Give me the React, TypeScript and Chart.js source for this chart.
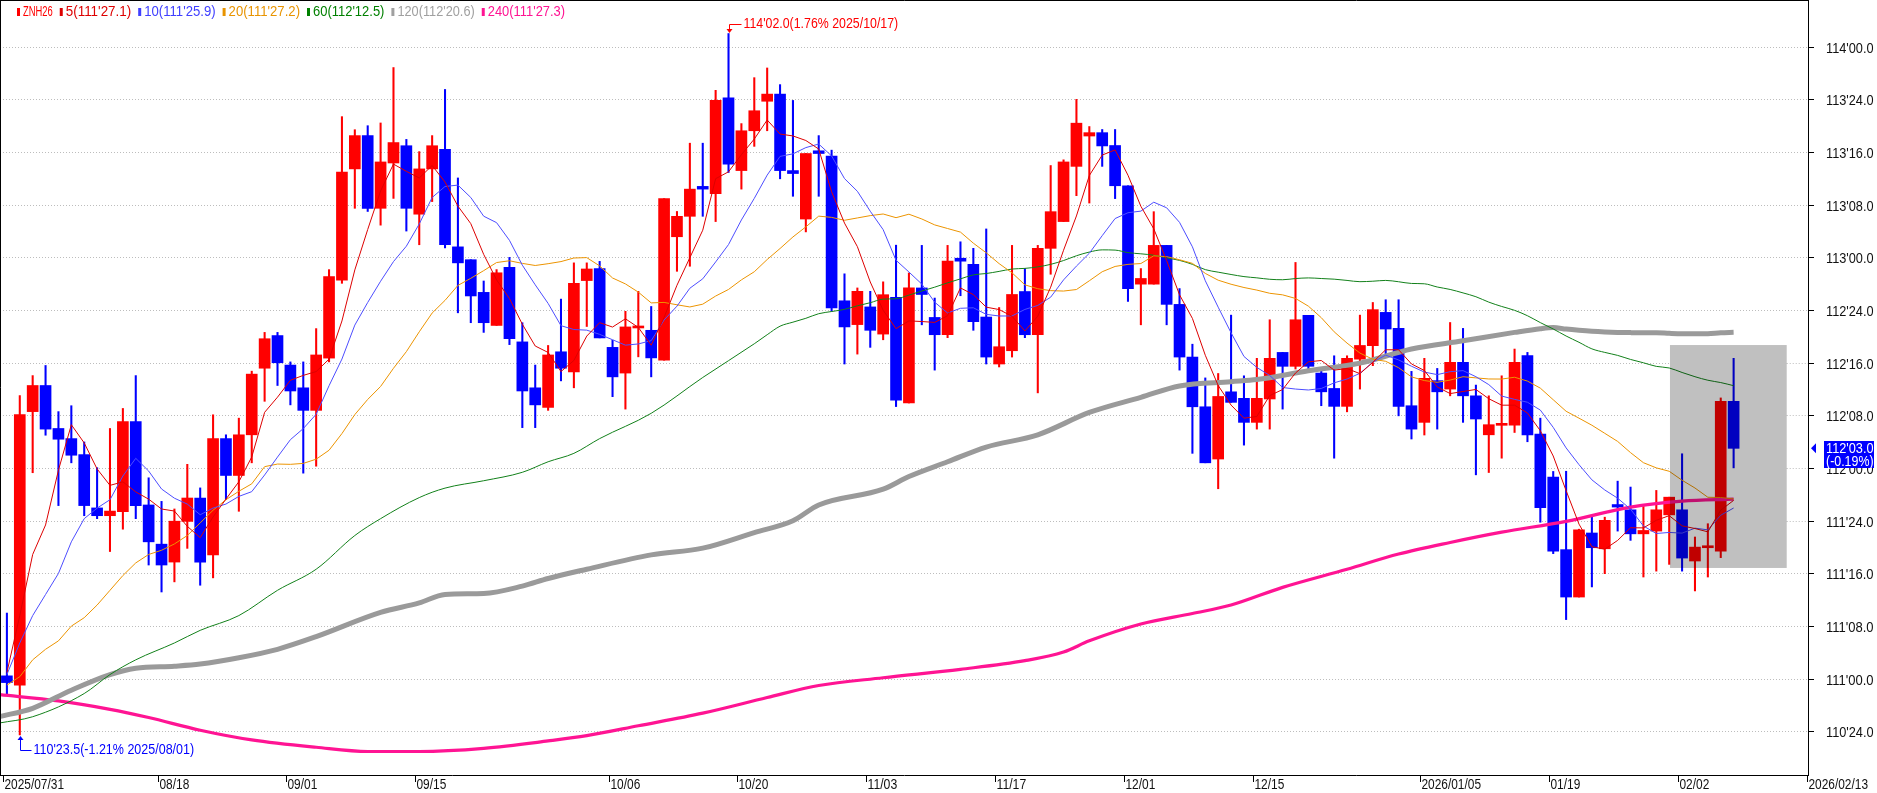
import React, { useEffect, useRef } from "react";
import { Chart, registerables } from "chart.js";

Chart.register(...registerables);

// ---- Daily OHLC (ZNH26), index 0 = 2025/07/31 ----
const opens = [
  111.014, 110.970, 112.268, 112.392, 112.188, 112.140, 112.064, 111.811, 111.774, 111.793,
  112.221, 111.825, 111.639, 111.554, 111.747, 111.858, 111.588, 112.140, 111.965, 112.158,
  112.474, 112.629, 112.489, 112.381, 112.274, 112.522, 112.892, 113.420, 113.578, 113.233,
  113.448, 113.530, 113.205, 113.420, 113.513, 113.050, 112.989, 112.834, 112.677, 112.953,
  112.599, 112.381, 112.288, 112.552, 112.457, 112.890, 112.947, 112.573, 112.451, 112.665,
  112.654, 112.512, 113.098, 113.195, 113.337, 113.303, 113.757, 113.412, 113.601, 113.741,
  113.775, 113.412, 113.182, 113.506, 113.481, 112.794, 112.681, 112.765, 112.636, 112.811,
  112.309, 112.855, 112.715, 112.633, 112.996, 112.967, 112.717, 112.494, 112.557, 112.838,
  112.633, 113.043, 113.170, 113.432, 113.576, 113.592, 113.531, 113.340, 112.873, 112.873,
  113.057, 112.777, 112.527, 112.291, 112.043, 112.362, 112.331, 112.217, 112.328, 112.549,
  112.483, 112.725, 112.451, 112.378, 112.293, 112.517, 112.581, 112.739, 112.663, 112.296,
  112.217, 112.415, 112.375, 112.502, 112.343, 112.158, 112.203, 112.204, 112.534, 112.162,
  111.957, 111.613, 111.388, 111.692, 111.617, 111.827, 111.802, 111.688, 111.701, 111.778,
  111.802, 111.559, 111.622, 111.606, 112.317,
];
const highs = [
  111.312, 112.344, 112.439, 112.487, 112.268, 112.296, 112.124, 112.002, 112.188, 112.283,
  112.439, 111.954, 111.842, 111.806, 112.018, 111.906, 112.253, 112.158, 112.237, 112.460,
  112.644, 112.644, 112.504, 112.504, 112.662, 112.942, 113.668, 113.606, 113.625, 113.638,
  113.901, 113.560, 113.502, 113.578, 113.797, 113.377, 112.989, 112.888, 112.942, 113.000,
  112.690, 112.489, 112.582, 112.802, 112.974, 112.974, 112.981, 112.607, 112.744, 112.839,
  112.767, 113.279, 113.218, 113.542, 113.542, 113.793, 114.0625, 113.635, 113.853, 113.899,
  113.820, 113.745, 113.493, 113.578, 113.509, 112.922, 112.855, 112.839, 112.884, 113.058,
  112.926, 113.057, 112.807, 113.057, 113.074, 113.043, 113.135, 112.762, 113.057, 112.947,
  113.057, 113.436, 113.463, 113.750, 113.621, 113.607, 113.607, 113.340, 112.947, 113.217,
  113.057, 112.852, 112.588, 112.428, 112.449, 112.726, 112.438, 112.521, 112.704, 112.549,
  112.976, 112.725, 112.470, 112.533, 112.533, 112.726, 112.786, 112.799, 112.799, 112.459,
  112.521, 112.473, 112.691, 112.663, 112.394, 112.343, 112.438, 112.565, 112.549, 112.237,
  111.984, 111.985, 111.710, 111.767, 111.767, 111.938, 111.910, 111.818, 111.894, 111.862,
  112.068, 111.673, 111.736, 112.333, 112.521,
];
const lows = [
  110.922, 110.734, 111.978, 112.156, 111.822, 112.025, 111.774, 111.760, 111.604, 111.710,
  111.760, 111.540, 111.412, 111.460, 111.619, 111.444, 111.479, 111.850, 111.795, 112.025,
  112.317, 112.392, 112.300, 111.976, 112.009, 112.504, 112.877, 113.233, 113.218, 113.153,
  113.280, 113.125, 113.060, 113.265, 113.045, 112.737, 112.690, 112.644, 112.677, 112.586,
  112.192, 112.192, 112.274, 112.414, 112.381, 112.672, 112.618, 112.339, 112.280, 112.528,
  112.433, 112.512, 112.934, 112.958, 113.195, 113.170, 113.403, 113.324, 113.527, 113.601,
  113.373, 113.290, 113.121, 113.290, 112.744, 112.494, 112.541, 112.573, 112.609, 112.292,
  112.309, 112.680, 112.465, 112.619, 112.818, 112.654, 112.494, 112.480, 112.527, 112.619,
  112.357, 112.920, 113.170, 113.293, 113.258, 113.432, 113.279, 112.791, 112.680, 112.873,
  112.680, 112.465, 112.070, 112.025, 111.902, 112.312, 112.109, 112.185, 112.185, 112.280,
  112.470, 112.462, 112.296, 112.047, 112.267, 112.375, 112.486, 112.533, 112.248, 112.138,
  112.157, 112.185, 112.343, 112.217, 111.968, 111.979, 112.047, 112.169, 112.125, 111.743,
  111.594, 111.281, 111.388, 111.436, 111.499, 111.701, 111.657, 111.483, 111.511, 111.543,
  111.511, 111.417, 111.483, 111.575, 112.001,
];
const closes = [
  110.982, 112.254, 112.392, 112.185, 112.137, 112.061, 111.822, 111.774, 111.796, 112.221,
  111.822, 111.650, 111.540, 111.748, 111.858, 111.554, 112.140, 111.965, 112.158, 112.446,
  112.614, 112.500, 112.366, 112.274, 112.537, 112.909, 113.405, 113.578, 113.233, 113.453,
  113.545, 113.233, 113.420, 113.530, 113.060, 112.974, 112.817, 112.690, 112.927, 112.614,
  112.366, 112.300, 112.537, 112.474, 112.877, 112.945, 112.618, 112.433, 112.670, 112.672,
  112.523, 113.279, 113.195, 113.324, 113.324, 113.745, 113.443, 113.601, 113.696, 113.775,
  113.412, 113.398, 113.493, 113.493, 112.760, 112.670, 112.839, 112.654, 112.823, 112.322,
  112.855, 112.824, 112.633, 112.982, 112.982, 112.695, 112.527, 112.576, 112.824, 112.633,
  113.043, 113.217, 113.453, 113.637, 113.592, 113.529, 113.340, 112.852, 112.900, 113.057,
  112.777, 112.527, 112.291, 112.025, 112.340, 112.312, 112.217, 112.331, 112.521, 112.483,
  112.704, 112.483, 112.362, 112.293, 112.521, 112.582, 112.752, 112.660, 112.293, 112.185,
  112.426, 112.362, 112.502, 112.343, 112.233, 112.206, 112.209, 112.502, 112.158, 111.812,
  111.606, 111.388, 111.707, 111.622, 111.752, 111.815, 111.688, 111.704, 111.802, 111.862,
  111.573, 111.625, 111.625, 112.317, 112.09375,
];

const ma5Head = [111.03, 111.30, 111.59, 111.73];
const ma10Head = [111.02, 111.17, 111.30, 111.40, 111.50, 111.65, 111.76, 111.81, 111.85];
const ma20Head = [
  110.97, 111.01, 111.09, 111.14, 111.18, 111.25, 111.29, 111.35, 111.42, 111.49,
  111.55, 111.59, 111.61, 111.64, 111.68, 111.74, 111.80, 111.85, 111.89,
];
const ma60HeadIdx = [-0.6, 2, 6, 8, 10, 13, 15, 18, 21, 24, 27, 29, 32, 34, 37, 40, 42, 44, 46, 50, 54, 58];
const ma60HeadVal = [
  110.79, 110.82, 110.93, 111.02, 111.09, 111.17, 111.23, 111.30, 111.42, 111.52, 111.68,
  111.76, 111.86, 111.905, 111.94, 111.98, 112.03, 112.07, 112.14, 112.26, 112.43, 112.59,
];
const ma120HeadIdx = [
  -0.6, 2, 5, 8, 10, 13, 15, 18, 21, 24, 29, 32, 34, 37, 40, 42, 45, 50, 54, 58, 61, 63, 68,
  70, 73, 76, 80, 84, 88, 91, 95, 97, 101, 105, 109, 113, 117,
];
const ma120HeadVal = [
  110.82, 110.86, 110.946, 111.02, 111.05, 111.06, 111.07, 111.10, 111.14, 111.20, 111.315,
  111.36, 111.40, 111.405, 111.44, 111.476, 111.52, 111.588, 111.62, 111.694, 111.75, 111.825,
  111.90, 111.96, 112.03, 112.10, 112.158, 112.264, 112.336, 112.39, 112.41, 112.42, 112.462,
  112.498, 112.565, 112.604, 112.644,
];
const ma240Idx = [
  -0.6, 4, 8, 11, 15, 19, 24, 28, 32, 37, 42, 45, 49, 54, 59, 63, 68, 74, 79, 82, 84, 88, 92,
  95, 99, 104, 108, 112, 116, 121, 126, 130, 134,
];
const ma240Val = [
  110.925, 110.895, 110.855, 110.816, 110.756, 110.71, 110.675, 110.655, 110.655, 110.67,
  110.705, 110.73, 110.777, 110.837, 110.911, 110.968, 111.005, 111.045, 111.086, 111.127,
  111.18, 111.26, 111.31, 111.35, 111.434, 111.52, 111.592, 111.647, 111.696, 111.747,
  111.815, 111.843, 111.853,
];

// ---- Axis / text content ----
const yTickValues = [110.75, 111.0, 111.25, 111.5, 111.75, 112.0, 112.25, 112.5, 112.75, 113.0, 113.25, 113.5, 113.75, 114.0];
const dateTickIdx = [0, 12, 22, 32, 47, 57, 67, 77, 87, 97, 110, 120, 130, 140];
const dateTickLabels = [
  "2025/07/31", "08/18", "09/01", "09/15", "10/06", "10/20", "11/03", "11/17", "12/01",
  "12/15", "2026/01/05", "01/19", "02/02", "2026/02/13",
];
const legendLabels = ["ZNH26", "5(111'27.1)", "10(111'25.9)", "20(111'27.2)", "60(112'12.5)", "120(112'20.6)", "240(111'27.3)"];
const highNote = { idx: 56, value: 114.0625, text: "114'02.0(1.76% 2025/10/17)" };
const lowNote = { idx: 1, value: 110.734, text: "110'23.5(-1.21% 2025/08/01)" };
const lastPrice = { value: 112.09375, text: "112'03.0", change: "(-0.19%)" };
const boxIdx = [129.06, 138.12];
const boxVal = [111.526, 112.584];

const FONT = "'Liberation Sans', Arial, sans-serif";
const CHAR_W = 5.95;
const UP = "#ff0000";
const DOWN = "#0000ff";
const legendColors = ["#ff0000", "#dd0000", "#4040ff", "#e89400", "#008000", "#a0a0a0", "#ff1493"];

function fmt32(v: number) {
  const whole = Math.floor(v + 1e-9);
  const f = (v - whole) * 32;
  const s = f.toFixed(1);
  return `${whole}'${f < 9.95 ? "0" + s : s}`;
}

// narrow text: compress horizontally to the condensed width of the original font
function narrowText(ctx: CanvasRenderingContext2D, text: string, x: number, y: number) {
  const target = text.length * CHAR_W;
  const w = ctx.measureText(text).width;
  if (w > target) ctx.fillText(text, x, y, target);
  else ctx.fillText(text, x, y);
  return Math.min(w, target);
}

function smaWithHead(n: number, head: number[]) {
  const pts: { x: number; y: number }[] = [];
  for (let i = 0; i < closes.length; i++) {
    if (i < n - 1) {
      if (i < head.length) pts.push({ x: i, y: head[i] });
    } else {
      let s = 0;
      for (let k = i - n + 1; k <= i; k++) s += closes[k];
      pts.push({ x: i, y: s / n });
    }
  }
  return pts;
}

function smaWithSampledHead(n: number, idx: number[], val: number[]) {
  const pts: { x: number; y: number }[] = idx.map((x, k) => ({ x, y: val[k] }));
  for (let i = n - 1; i < closes.length; i++) {
    let s = 0;
    for (let k = i - n + 1; k <= i; k++) s += closes[k];
    pts.push({ x: i, y: s / n });
  }
  return pts;
}

const overlayPlugin = {
  id: "znOverlay",
  beforeDatasetsDraw(chart: any) {
    const { ctx, chartArea, scales } = chart;
    const xs = scales.x, ys = scales.y;
    const bx0 = xs.getPixelForValue(boxIdx[0]);
    const bx1 = xs.getPixelForValue(boxIdx[1]);
    const by0 = ys.getPixelForValue(boxVal[1]);
    const by1 = ys.getPixelForValue(boxVal[0]);
    ctx.save();
    ctx.strokeStyle = "#bdbdbd";
    ctx.lineWidth = 1;
    ctx.setLineDash([1, 2]);
    for (const v of yTickValues) {
      const y = Math.round(ys.getPixelForValue(v)) + 0.5;
      ctx.beginPath();
      if (y >= by0 && y <= by1) {
        ctx.moveTo(chartArea.left, y);
        ctx.lineTo(bx0, y);
        ctx.moveTo(bx1, y);
        ctx.lineTo(chartArea.right, y);
      } else {
        ctx.moveTo(chartArea.left, y);
        ctx.lineTo(chartArea.right, y);
      }
      ctx.stroke();
    }
    ctx.restore();
  },
  afterDatasetsDraw(chart: any) {
    const { ctx, chartArea, scales } = chart;
    const xs = scales.x, ys = scales.y;
    const L = chartArea.left, R = Math.round(chartArea.right), T = chartArea.top, B = Math.round(chartArea.bottom);

    // highlighted zone (multiply-tinted)
    const bx0 = xs.getPixelForValue(boxIdx[0]);
    const bx1 = xs.getPixelForValue(boxIdx[1]);
    const by0 = ys.getPixelForValue(boxVal[1]);
    const by1 = ys.getPixelForValue(boxVal[0]);
    ctx.save();
    ctx.globalCompositeOperation = "multiply";
    ctx.fillStyle = "#c0c0c0";
    ctx.fillRect(bx0, by0, bx1 - bx0, by1 - by0);
    ctx.restore();

    ctx.save();
    // frame
    ctx.strokeStyle = "#000";
    ctx.lineWidth = 1;
    ctx.beginPath();
    ctx.moveTo(L + 0.5, T);
    ctx.lineTo(L + 0.5, B + 0.5);
    ctx.moveTo(L, T + 0.5);
    ctx.lineTo(R + 0.5, T + 0.5);
    ctx.moveTo(R + 0.5, T);
    ctx.lineTo(R + 0.5, B + 1);
    ctx.moveTo(L, B + 0.5);
    ctx.lineTo(R + 1, B + 0.5);
    ctx.stroke();

    // right axis ticks + labels
    ctx.font = `15px ${FONT}`;
    ctx.fillStyle = "#111";
    ctx.textBaseline = "middle";
    ctx.textAlign = "left";
    for (const v of yTickValues) {
      const y = Math.round(ys.getPixelForValue(v)) + 0.5;
      ctx.beginPath();
      ctx.moveTo(R + 1, y);
      ctx.lineTo(R + 6, y);
      ctx.stroke();
      narrowText(ctx, fmt32(v), R + 18, y + 1);
    }

    // bottom date ticks + labels
    ctx.font = `14px ${FONT}`;
    ctx.textBaseline = "top";
    dateTickIdx.forEach((idx, k) => {
      const x = Math.round(xs.getPixelForValue(idx - 0.303)) + 0.5;
      ctx.beginPath();
      ctx.moveTo(x, B + 1);
      ctx.lineTo(x, B + 7);
      ctx.stroke();
      narrowText(ctx, dateTickLabels[k], x + 1, B + 3);
    });

    // legend
    ctx.font = `14px ${FONT}`;
    ctx.textBaseline = "middle";
    let lx = 17;
    legendLabels.forEach((t, k) => {
      ctx.fillStyle = legendColors[k];
      ctx.fillRect(lx, 8, 3, 8);
      lx += 6;
      const w = narrowText(ctx, t, lx, 12.5);
      lx += w + 7;
    });

    // high annotation
    {
      const ax = Math.round(xs.getPixelForValue(highNote.idx)) + 0.5;
      const ay = Math.round(ys.getPixelForValue(highNote.value));
      const ty = 24.5;
      ctx.strokeStyle = "#ff0000";
      ctx.fillStyle = "#ff0000";
      ctx.beginPath();
      ctx.moveTo(ax + 12, ty);
      ctx.lineTo(ax, ty);
      ctx.lineTo(ax, ay - 2);
      ctx.stroke();
      ctx.beginPath();
      ctx.moveTo(ax - 3, ay - 5);
      ctx.lineTo(ax + 3, ay - 5);
      ctx.lineTo(ax, ay - 1);
      ctx.closePath();
      ctx.fill();
      ctx.textBaseline = "middle";
      narrowText(ctx, highNote.text, ax + 14, ty);
    }
    // low annotation
    {
      const ax = Math.round(xs.getPixelForValue(lowNote.idx)) + 0.5;
      const ay = Math.round(ys.getPixelForValue(lowNote.value));
      const ty = 750.5;
      ctx.strokeStyle = "#0000ff";
      ctx.fillStyle = "#0000ff";
      ctx.beginPath();
      ctx.moveTo(ax, ay + 3);
      ctx.lineTo(ax, ty);
      ctx.lineTo(ax + 11, ty);
      ctx.stroke();
      ctx.beginPath();
      ctx.moveTo(ax - 3, ay + 5);
      ctx.lineTo(ax + 3, ay + 5);
      ctx.lineTo(ax, ay + 1);
      ctx.closePath();
      ctx.fill();
      narrowText(ctx, lowNote.text, ax + 13, ty);
    }

    // last price marker
    {
      const py = ys.getPixelForValue(lastPrice.value);
      ctx.fillStyle = "#0000ff";
      ctx.beginPath();
      ctx.moveTo(R + 3, py);
      ctx.lineTo(R + 8, py - 5);
      ctx.lineTo(R + 8, py + 5);
      ctx.closePath();
      ctx.fill();
      ctx.fillRect(R + 16, Math.round(py) - 7, 50, 27);
      ctx.fillStyle = "#ffffff";
      ctx.font = `14px ${FONT}`;
      ctx.textBaseline = "middle";
      narrowText(ctx, lastPrice.text, R + 18, py + 1);
      narrowText(ctx, lastPrice.change, R + 18, py + 13.5);
    }
    ctx.restore();
  },
};

export default function App() {
  const canvasRef = useRef<HTMLCanvasElement | null>(null);

  useEffect(() => {
    document.body.style.margin = "0";
    const canvas = canvasRef.current;
    if (!canvas) return;

    const colors = closes.map((c, i) => (c >= opens[i] ? UP : DOWN));
    const wickData = closes.map((_, i) => ({ x: i, y: [lows[i], highs[i]] }));
    const bodyData = closes.map((c, i) => ({ x: i, y: [opens[i], c] }));

    const lineDs = (label: string, data: any[], color: string, width: number, order: number, smooth: boolean) => ({
      type: "line" as const,
      label,
      data,
      borderColor: color,
      backgroundColor: color,
      borderWidth: width,
      pointRadius: 0,
      tension: 0,
      cubicInterpolationMode: smooth ? "monotone" : "default",
      fill: false,
      order,
    });

    const chart = new Chart(canvas, {
      type: "bar",
      data: {
        datasets: [
          {
            type: "bar",
            label: "wick",
            data: wickData as any,
            backgroundColor: colors,
            borderWidth: 0,
            barThickness: 1.4,
            grouped: false,
            order: 20,
          } as any,
          {
            type: "bar",
            label: "body",
            data: bodyData as any,
            backgroundColor: colors,
            borderWidth: 0,
            barThickness: 11,
            minBarLength: 2,
            grouped: false,
            order: 19,
          } as any,
          lineDs("MA240", smaWithSampledHead(9999, ma240Idx, ma240Val), "#ff1493", 3.2, 6, true),
          lineDs("MA120", smaWithSampledHead(120, ma120HeadIdx, ma120HeadVal), "#9a9a9a", 5, 5, true),
          lineDs("MA60", smaWithSampledHead(60, ma60HeadIdx, ma60HeadVal), "#12801a", 1, 4, true),
          lineDs("MA20", smaWithHead(20, ma20Head), "#ec9400", 1, 3, false),
          lineDs("MA10", smaWithHead(10, ma10Head), "#4d4dff", 1, 2, false),
          lineDs("MA5", smaWithHead(5, ma5Head), "#dd0000", 1, 1, false),
        ] as any,
      },
      options: {
        animation: false,
        responsive: false,
        maintainAspectRatio: false,
        devicePixelRatio: 1,
        events: [],
        layout: { padding: { left: 0, top: 0, right: 69, bottom: 18 } },
        plugins: { legend: { display: false }, tooltip: { enabled: false } },
        scales: {
          x: { type: "linear", min: -0.5355, max: 139.772, display: false, offset: false },
          y: { type: "linear", min: 110.5434, max: 114.2216, display: false },
        },
      } as any,
      plugins: [overlayPlugin],
    });
    return () => chart.destroy();
  }, []);

  return (
    <div style={{ width: 1877, height: 793, overflow: "hidden", background: "#fff" }}>
      <canvas ref={canvasRef} width={1877} height={793} style={{ display: "block", width: 1877, height: 793 }} />
    </div>
  );
}
